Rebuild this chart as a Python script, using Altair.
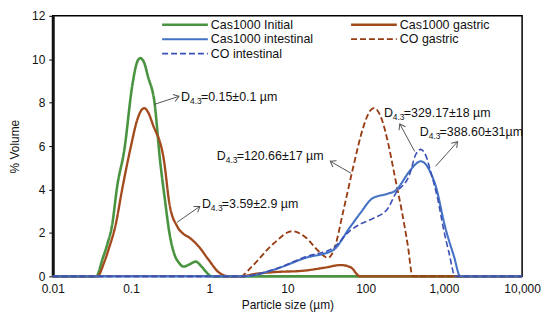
import math
import altair as alt
import pandas as pd

# ---------------- data ----------------
SERIES = ["Cas1000 Initial", "Cas1000 gastric", "Cas1000 intestinal", "CO gastric", "CO intestinal"]
COLORS = ["#4a9441", "#a24a1c", "#4472c4", "#983c12", "#3c4fb4"]
DASHES = [[1, 0], [1, 0], [1, 0], [6, 3], [6, 3]]
WIDTHS = [2.6, 1.6, 2.8, 2.4, 2.4]

GREEN_X = [0.01, 0.036, 0.043, 0.050, 0.057, 0.067, 0.082, 0.104, 0.117, 0.131, 0.147, 0.165, 0.20, 0.236, 0.27,
           0.31, 0.36, 0.41, 0.47, 0.56, 0.67, 0.80, 0.90, 1.08, 10000]
GREEN_Y = [0, 0, 0.77, 1.5, 2.3, 4.2, 5.8, 8.8, 9.75, 10.05, 9.85, 9.2, 8.0, 5.3, 3.6,
           2.0, 1.0, 0.63, 0.45, 0.55, 0.68, 0.45, 0.23, 0, 0]

BROWN_X = [0.01, 0.037, 0.046, 0.053, 0.063, 0.078, 0.10, 0.12, 0.133, 0.148, 0.166, 0.19, 0.265, 0.31, 0.39,
           0.47, 0.55, 0.74, 0.98, 1.33, 1.8, 2.5, 4, 7, 15, 30, 48, 64, 85, 10000]
BROWN_Y = [0, 0, 0.7, 1.36, 2.3, 4.1, 6.0, 7.2, 7.6, 7.75, 7.55, 7.0, 5.3, 3.35, 2.3,
           1.95, 1.8, 1.36, 0.77, 0.18, 0, 0, 0.12, 0.2, 0.25, 0.4, 0.52, 0.42, 0, 0]

COG_X = [0.01, 2.5, 3.5, 6.6, 11.5, 17, 26, 33, 40, 51, 69, 92, 107, 119, 130, 143, 160, 192, 236, 290, 345,
         399, 10000]
COG_Y = [0, 0, 0.45, 1.5, 2.08, 1.8, 1.1, 0.85, 1.3, 2.9, 5.0, 6.8, 7.45, 7.7, 7.75, 7.62, 7.25, 6.2, 4.6, 3.0,
         1.45, 0, 0]

CASI_X = [0.01, 2.7, 6.6, 17, 38, 63, 85, 123, 190, 240, 365, 430, 505, 590, 680, 780, 1040, 1350, 1620, 10000]
CASI_Y = [0, 0, 0.3, 0.85, 1.2, 2.26, 2.9, 3.6, 3.8, 3.95, 4.85, 5.15, 5.3, 5.15, 4.75, 4.2, 2.26, 0.9, 0, 0]

COI_X = [0.01, 2.7, 6.6, 17, 38, 63, 85, 123, 190, 240, 365, 435, 505, 590, 680, 830, 1000, 1160, 1400, 10000]
COI_Y = [0, 0, 0.3, 0.9, 1.3, 2.1, 2.4, 2.66, 3.1, 3.8, 4.7, 5.6, 5.85, 5.55, 4.8, 3.6, 2.1, 1.1, 0, 0]

X_TICKS = [0.01, 0.1, 1, 10, 100, 1000, 10000]
Y_TICKS = [0, 2, 4, 6, 8, 10, 12]

ANN_TEXT = ["=0.15\u00b10.1 \u00b5m", " =3.59\u00b12.9 \u00b5m", " =120.66\u00b117 \u00b5m",
            " =329.17\u00b118 \u00b5m", "=388.60\u00b131\u00b5m"]
ANN_X = [0.436, 0.807, 1.25, 171, 491]
ANN_Y = [8.24, 3.35, 5.52, 7.52, 6.66]

ARROW_X1 = [0.198, 0.388, 65.1, 424, 783]
ARROW_Y1 = [7.92, 2.49, 4.75, 5.75, 5.07]
ARROW_X2 = [0.411, 0.760, 35.2, 273, 1493]
ARROW_Y2 = [8.29, 3.22, 5.30, 7.02, 6.20]

# ---------------- layout ----------------
W, H = 472, 262
FONT = "Liberation Sans"

xs = alt.Scale(type="log", domain=[0.01, 10000])
ys = alt.Scale(domain=[0, 12])
cscale = alt.Scale(domain=SERIES, range=COLORS)
dscale = alt.Scale(domain=SERIES, range=DASHES)
wscale = alt.Scale(domain=SERIES, range=WIDTHS)

X_AXIS = alt.Axis(values=X_TICKS, format=",", ticks=False, labelPadding=7,
                  labelFontSize=12, grid=False, domain=False,
                  title="Particle size (\u00b5m)", titleFontSize=12,
                  titleFontWeight="normal", titlePadding=5, labelFlush=False)
Y_AXIS = alt.Axis(values=Y_TICKS, tickSize=4, tickColor="black", domainColor="#111",
                  domainWidth=3, labelPadding=4, labelFontSize=12, grid=False,
                  title="% Volume", titleFontSize=12, titleFontWeight="normal",
                  titlePadding=10)


def X(field):
    return alt.X(field, scale=xs, axis=X_AXIS, title="Particle size (\u00b5m)")


def Y(field):
    return alt.Y(field, scale=ys, axis=Y_AXIS, title="% Volume")


series_data = [(GREEN_X, GREEN_Y), (BROWN_X, BROWN_Y), (COG_X, COG_Y), (CASI_X, CASI_Y), (COI_X, COI_Y)]
series_names = ["Cas1000 Initial", "Cas1000 gastric", "CO gastric", "Cas1000 intestinal", "CO intestinal"]

layers = []
for name, (sx, sy) in zip(series_names, series_data):
    df = pd.DataFrame({"x": sx, "y": sy, "series": name})
    layers.append(alt.Chart(df).mark_line(interpolate="monotone").encode(
        x=X("x:Q"), y=Y("y:Q"),
        color=alt.Color("series:N", scale=cscale, legend=None),
        strokeDash=alt.StrokeDash("series:N", scale=dscale, legend=None),
        strokeWidth=alt.StrokeWidth("series:N", scale=wscale, legend=None),
    ))

# ---------------- legend (manual) ----------------
leg_rows = []
for k, name in enumerate(SERIES):
    col, row = k % 2, k // 2
    x0 = 110 + col * 190
    leg_rows.append({"series": name, "lx": x0, "lx2": x0 + 46, "tx": x0 + 49, "ly": 9 + row * 14.5})
leg = pd.DataFrame(leg_rows)
legend_lines = alt.Chart(leg).mark_rule().encode(
    x=alt.X("lx:Q", scale=None), x2="lx2:Q", y=alt.Y("ly:Q", scale=None),
    color=alt.Color("series:N", scale=cscale, legend=None),
    strokeDash=alt.StrokeDash("series:N", scale=dscale, legend=None),
    strokeWidth=alt.StrokeWidth("series:N", scale=wscale, legend=None),
)
legend_text = alt.Chart(leg).mark_text(align="left", baseline="middle", fontSize=12.5, color="#111").encode(
    x=alt.X("tx:Q", scale=None), y=alt.Y("ly:Q", scale=None), text="series:N"
)

# ---------------- annotations ----------------
def to_px(x, y):
    return W * (math.log10(x) + 2) / 6, H * (1 - y / 12)


angles = []
for a, b, c, d in zip(ARROW_X1, ARROW_Y1, ARROW_X2, ARROW_Y2):
    p1, p2 = to_px(a, b), to_px(c, d)
    angles.append(math.degrees(math.atan2(p2[1] - p1[1], p2[0] - p1[0])) % 360)

arr = pd.DataFrame({"ax": ARROW_X1, "ay": ARROW_Y1, "ax2": ARROW_X2, "ay2": ARROW_Y2, "ang": angles})
arrow_lines = alt.Chart(arr).mark_rule(color="#555", strokeWidth=1).encode(
    x=X("ax:Q"), y=Y("ay:Q"), x2="ax2:Q", y2="ay2:Q")
arrow_heads = alt.Chart(arr).mark_point(
    shape="M -1 -0.7 L 0 0 L -1 0.7", filled=False, color="#555", strokeWidth=1, size=110, opacity=1
).encode(x=X("ax2:Q"), y=Y("ay2:Q"), angle=alt.Angle("ang:Q", scale=None))

ann = pd.DataFrame({"tx": ANN_X, "ty": ANN_Y, "rest": ANN_TEXT, "d": "D", "sub": "4.3"})
ann_d = alt.Chart(ann).mark_text(align="left", baseline="middle", fontSize=12.5, color="#111").encode(
    x=X("tx:Q"), y=Y("ty:Q"), text="d:N")
ann_sub = alt.Chart(ann).mark_text(align="left", baseline="middle", fontSize=8.5, dx=9, dy=4, color="#111").encode(
    x=X("tx:Q"), y=Y("ty:Q"), text="sub:N")
ann_rest = alt.Chart(ann).mark_text(align="left", baseline="middle", fontSize=12.5, dx=20, color="#111").encode(
    x=X("tx:Q"), y=Y("ty:Q"), text="rest:N")

chart = alt.layer(
    *layers, arrow_lines, arrow_heads, ann_d, ann_sub, ann_rest, legend_lines, legend_text
).properties(
    width=W, height=H,
    autosize=alt.AutoSizeParams(type="none"),
    padding={"left": 45, "top": 7, "right": 20, "bottom": 36},
).configure(
    font=FONT
).configure_view(
    stroke="black", strokeWidth=1.5
).configure_axis(
    labelColor="#111", titleColor="#111", labelFont=FONT, titleFont=FONT
)

chart.save("out.html", embed_options={"renderer": "svg", "actions": False})
